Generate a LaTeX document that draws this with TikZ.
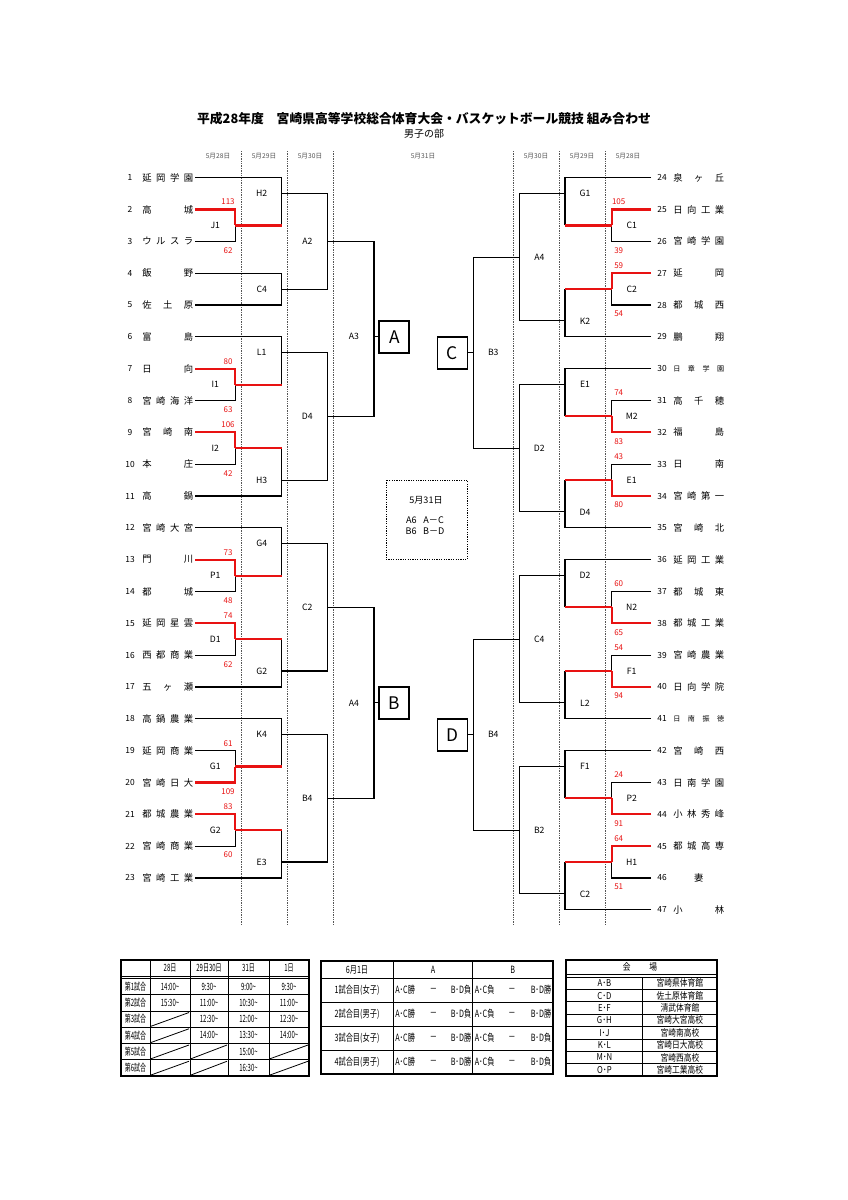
\documentclass[tikz,border=0pt]{standalone}
\usepackage{fontspec}
\setmainfont{Noto Sans CJK JP}
\newfontfamily\condA[FakeStretch=0.6]{Noto Sans CJK JP}
\newfontfamily\cond[FakeStretch=0.72]{Noto Sans CJK JP}
\newfontfamily\condC[FakeStretch=0.82]{Noto Sans CJK JP}
\usetikzlibrary{calc}
\definecolor{wred}{RGB}{232,18,18}
\definecolor{dgray}{RGB}{85,85,85}
\def\spreadA#1{\ifx\relax#1\else#1\expandafter\spreadB\fi}
\def\spreadB#1{\ifx\relax#1\else\hfill#1\expandafter\spreadB\fi}
\newcommand\spr[1]{\spreadA#1\relax}
\newcommand\ry[1]{(177.7+(#1-1)*31.83)}
\newcommand\hy[1]{(193.6+(#1-1)*31.83)}
\newcommand\lteam[3][]{%
 \node[num] (ln#2) at (130,{\ry{#2}}) {#2};
 \node[tname] (lt#2) at (142,{\ry{#2}}) {#1\hbox to 38.25pt{#3}};
 \coordinate (le#2) at (195,{\ry{#2}});}
\newcommand\rteam[4][]{%
 \node[num] (rn#2) at (662,{\ry{#3}}) {#2};
 \node[tname] (rt#2) at (673,{\ry{#3}}) {#1\hbox to 38.25pt{#4}};
 \coordinate (re#2) at (651,{\ry{#3}});}
\newcommand\rone[4]{%
 \draw[ln] (#2) -| (#3);
 \draw[ln] (#3 -| #4) -- (#4);
 \draw[win] (#1) -| (#3);
 \draw[win] (#3) -- (#3 -| #4);}
\newcommand\sctop[4]{\node[score] (#1) at (#2,{\ry{#3}-7.5}) {#4};}
\newcommand\scbot[4]{\node[score] (#1) at (#2,{\ry{#3}+9}) {#4};}
\newcommand\llab[2]{\node[mlab] (lab#1) at ($(#1)+(-20,0)$) {#2};}
\newcommand\rlab[2]{\node[mlab] (lab#1) at ($(#1)+(20,0)$) {#2};}
\tikzset{
 ln/.style={line width=0.85pt, black},
 win/.style={line width=1.6pt, wred},
 num/.style={font=\fontsize{6.3}{7}\selectfont, inner sep=0pt},
 tname/.style={font=\fontsize{7}{7}\selectfont, inner sep=0pt, anchor=west},
 mlab/.style={font=\fontsize{6.5}{7}\selectfont, inner sep=0pt},
 score/.style={font=\fontsize{6}{6}\selectfont, text=wred, inner sep=0pt},
 dateh/.style={font=\fontsize{5}{5}\selectfont, text=dgray, inner sep=0pt},
 daylines/.style={dgray, line width=0.6pt, dash pattern=on 1pt off 0.8pt},
 bigbox/.style={draw, line width=1.4pt, minimum width=22.5pt, minimum height=24pt, inner sep=0pt, font=\fontsize{13}{13}\selectfont},
 tbo/.style={line width=0.9pt},
 tbi/.style={line width=0.5pt},
 tfa/.style={font=\condA\fontsize{7.5}{8}\selectfont, inner sep=0pt},
 tfb/.style={font=\cond\fontsize{7.5}{8}\selectfont, inner sep=0pt},
 tfc/.style={font=\condC\fontsize{7.1}{8}\selectfont, inner sep=0pt},
}
\begin{document}
\begin{tikzpicture}[x=0.75pt,y=-0.75pt]
\fill[white] (0,0) rectangle (848,1200);
\useasboundingbox (0,0) rectangle (848,1200);
% titles
\node[font=\bfseries\fontsize{9.6}{10}\selectfont, inner sep=0pt] (title) at (424,119) {平成28年度　宮崎県高等学校総合体育大会・バスケットボール競技 組み合わせ};
\node[font=\fontsize{7.5}{8}\selectfont, inner sep=0pt] (sub) at (424,134) {男子の部};
% date headers
\node[dateh] (d1) at (218,156) {5月28日};
\node[dateh] (d2) at (264,156) {5月29日};
\node[dateh] (d3) at (310,156) {5月30日};
\node[dateh] (d4) at (423,156) {5月31日};
\node[dateh] (d5) at (536,156) {5月30日};
\node[dateh] (d6) at (582,156) {5月29日};
\node[dateh] (d7) at (628,156) {5月28日};
\foreach \x [count=\i] in {241,287.3,333.3,513.3,559.3,605.7}
  \draw[daylines] (\x,151) coordinate (dl\i) -- (\x,925);
% left teams
\lteam{1}{\spr{延岡学園}}
\lteam{2}{\spr{高城}}
\lteam{3}{\spr{ウルスラ}}
\lteam{4}{\spr{飯野}}
\lteam{5}{\spr{佐土原}}
\lteam{6}{\spr{富島}}
\lteam{7}{\spr{日向}}
\lteam{8}{\spr{宮崎海洋}}
\lteam{9}{\spr{宮崎南}}
\lteam{10}{\spr{本庄}}
\lteam{11}{\spr{高鍋}}
\lteam{12}{\spr{宮崎大宮}}
\lteam{13}{\spr{門川}}
\lteam{14}{\spr{都城}}
\lteam{15}{\spr{延岡星雲}}
\lteam{16}{\spr{西都商業}}
\lteam{17}{\spr{五ヶ瀬}}
\lteam{18}{\spr{高鍋農業}}
\lteam{19}{\spr{延岡商業}}
\lteam{20}{\spr{宮崎日大}}
\lteam{21}{\spr{都城農業}}
\lteam{22}{\spr{宮崎商業}}
\lteam{23}{\spr{宮崎工業}}
% right teams
\rteam{24}{1}{\spr{泉ヶ丘}}
\rteam{25}{2}{\spr{日向工業}}
\rteam{26}{3}{\spr{宮崎学園}}
\rteam{27}{4}{\spr{延岡}}
\rteam{28}{5}{\spr{都城西}}
\rteam{29}{6}{\spr{鵬翔}}
\rteam[\fontsize{5.3}{5}\selectfont]{30}{7}{\spr{日章学園}}
\rteam{31}{8}{\spr{高千穂}}
\rteam{32}{9}{\spr{福島}}
\rteam{33}{10}{\spr{日南}}
\rteam{34}{11}{\spr{宮崎第一}}
\rteam{35}{12}{\spr{宮崎北}}
\rteam{36}{13}{\spr{延岡工業}}
\rteam{37}{14}{\spr{都城東}}
\rteam{38}{15}{\spr{都城工業}}
\rteam{39}{16}{\spr{宮崎農業}}
\rteam{40}{17}{\spr{日向学院}}
\rteam[\fontsize{5.3}{5}\selectfont]{41}{18}{\spr{日南振徳}}
\rteam{42}{19}{\spr{宮崎西}}
\rteam{43}{20}{\spr{日南学園}}
\rteam{44}{21}{\spr{小林秀峰}}
\rteam{45}{22}{\spr{都城高専}}
\rteam{46}{23}{\hfil 妻\hfil}
\rteam{47}{24}{\spr{小林}}
% left match points
\coordinate (LJ1) at (235.3,{\hy{2}});
\coordinate (LI1) at (235.3,{\hy{7}});
\coordinate (LI2) at (235.3,{\hy{9}});
\coordinate (LP1) at (235.3,{\hy{13}});
\coordinate (LD1) at (235.3,{\hy{15}});
\coordinate (LG1) at (235.3,{\hy{19}});
\coordinate (LG2a) at (235.3,{\hy{21}});
\coordinate (LH2) at (281.7,{\hy{1}});
\coordinate (LC4) at (281.7,{\hy{4}});
\coordinate (LL1) at (281.7,{\hy{6}});
\coordinate (LH3) at (281.7,{\hy{10}});
\coordinate (LG4) at (281.7,{\hy{12}});
\coordinate (LG2) at (281.7,{\hy{16}});
\coordinate (LK4) at (281.7,{\hy{18}});
\coordinate (LE3) at (281.7,{\hy{22}});
\coordinate (LA2) at (327.3,{\ry{3}});
\coordinate (LD4) at (327.3,{\hy{8}});
\coordinate (LC2) at (327.3,{\hy{14}});
\coordinate (LB4) at (327.3,{\hy{20}});
\coordinate (LA3) at (374,{\ry{6}});
\coordinate (LA4) at (374,{\hy{17}});
% right match points
\coordinate (RC1) at (611.7,{\hy{2}});
\coordinate (RC2) at (611.7,{\hy{4}});
\coordinate (RM2) at (611.7,{\hy{8}});
\coordinate (RE1b) at (611.7,{\hy{10}});
\coordinate (RN2) at (611.7,{\hy{14}});
\coordinate (RF1) at (611.7,{\hy{16}});
\coordinate (RP2) at (611.7,{\hy{20}});
\coordinate (RH1) at (611.7,{\hy{22}});
\coordinate (RG1) at (565,{\hy{1}});
\coordinate (RK2) at (565,{\hy{5}});
\coordinate (RE1) at (565,{\hy{7}});
\coordinate (RD4) at (565,{\hy{11}});
\coordinate (RD2) at (565,{\hy{13}});
\coordinate (RL2) at (565,{\hy{17}});
\coordinate (RF1b) at (565,{\hy{19}});
\coordinate (RC2b) at (565,{\hy{23}});
\coordinate (RA4) at (519.3,{\hy{3}});
\coordinate (RD2a) at (519.3,{\hy{9}});
\coordinate (RC4) at (519.3,{\hy{15}});
\coordinate (RB2) at (519.3,{\hy{21}});
\coordinate (RB3) at (473.3,{\hy{6}});
\coordinate (RB4) at (473.3,{\hy{18}});
% boxes
\node[bigbox] (boxA) at (394.3,{\ry{6}}) {A};
\node[bigbox] (boxB) at (394.3,{\hy{17}}) {B};
\node[bigbox] (boxC) at (452.5,{\hy{6}}) {C};
\node[bigbox] (boxD) at (452.5,{\hy{18}}) {D};
% left bracket
\draw[ln] (le1) -| (LH2);
\draw[ln] (le4) -| (LC4); \draw[ln] (le5) -| (LC4);
\draw[ln] (le6) -| (LL1);
\draw[ln] (le11) -| (LH3);
\draw[ln] (le12) -| (LG4);
\draw[ln] (le17) -| (LG2);
\draw[ln] (le18) -| (LK4);
\draw[ln] (le23) -| (LE3);
\draw[ln] (LH2) -| (LA2); \draw[ln] (LC4) -| (LA2);
\draw[ln] (LL1) -| (LD4); \draw[ln] (LH3) -| (LD4);
\draw[ln] (LG4) -| (LC2); \draw[ln] (LG2) -| (LC2);
\draw[ln] (LK4) -| (LB4); \draw[ln] (LE3) -| (LB4);
\draw[ln] (LA2) -| (LA3); \draw[ln] (LD4) -| (LA3);
\draw[ln] (LC2) -| (LA4); \draw[ln] (LB4) -| (LA4);
\draw[ln] (LA3) -- (boxA); \draw[ln] (LA4) -- (boxB);
\rone{le2}{le3}{LJ1}{LH2}
\rone{le7}{le8}{LI1}{LL1}
\rone{le9}{le10}{LI2}{LH3}
\rone{le13}{le14}{LP1}{LG4}
\rone{le15}{le16}{LD1}{LG2}
\rone{le20}{le19}{LG1}{LK4}
\rone{le21}{le22}{LG2a}{LE3}
% right bracket
\draw[ln] (re24) -| (RG1);
\draw[ln] (re29) -| (RK2);
\draw[ln] (re30) -| (RE1);
\draw[ln] (re35) -| (RD4);
\draw[ln] (re36) -| (RD2);
\draw[ln] (re41) -| (RL2);
\draw[ln] (re42) -| (RF1b);
\draw[ln] (re47) -| (RC2b);
\draw[ln] (RG1) -| (RA4); \draw[ln] (RK2) -| (RA4);
\draw[ln] (RE1) -| (RD2a); \draw[ln] (RD4) -| (RD2a);
\draw[ln] (RD2) -| (RC4); \draw[ln] (RL2) -| (RC4);
\draw[ln] (RF1b) -| (RB2); \draw[ln] (RC2b) -| (RB2);
\draw[ln] (RA4) -| (RB3); \draw[ln] (RD2a) -| (RB3);
\draw[ln] (RC4) -| (RB4); \draw[ln] (RB2) -| (RB4);
\draw[ln] (RB3) -- (boxC); \draw[ln] (RB4) -- (boxD);
\rone{re25}{re26}{RC1}{RG1}
\rone{re27}{re28}{RC2}{RK2}
\rone{re32}{re31}{RM2}{RE1}
\rone{re34}{re33}{RE1b}{RD4}
\rone{re38}{re37}{RN2}{RD2}
\rone{re40}{re39}{RF1}{RL2}
\rone{re44}{re43}{RP2}{RF1b}
\rone{re45}{re46}{RH1}{RC2b}
% match labels
\llab{LJ1}{J1} \llab{LI1}{I1} \llab{LI2}{I2} \llab{LP1}{P1} \llab{LD1}{D1} \llab{LG1}{G1} \llab{LG2a}{G2}
\llab{LH2}{H2} \llab{LC4}{C4} \llab{LL1}{L1} \llab{LH3}{H3} \llab{LG4}{G4} \llab{LG2}{G2} \llab{LK4}{K4} \llab{LE3}{E3}
\llab{LA2}{A2} \llab{LD4}{D4} \llab{LC2}{C2} \llab{LB4}{B4} \llab{LA3}{A3} \llab{LA4}{A4}
\rlab{RC1}{C1} \rlab{RC2}{C2} \rlab{RM2}{M2} \rlab{RE1b}{E1} \rlab{RN2}{N2} \rlab{RF1}{F1} \rlab{RP2}{P2} \rlab{RH1}{H1}
\rlab{RG1}{G1} \rlab{RK2}{K2} \rlab{RE1}{E1} \rlab{RD4}{D4} \rlab{RD2}{D2} \rlab{RL2}{L2} \rlab{RF1b}{F1} \rlab{RC2b}{C2}
\rlab{RA4}{A4} \rlab{RD2a}{D2} \rlab{RC4}{C4} \rlab{RB2}{B2} \rlab{RB3}{B3} \rlab{RB4}{B4}
% scores left
\sctop{s2}{228}{2}{113} \scbot{s3}{228}{3}{62}
\sctop{s7}{228}{7}{80} \scbot{s8}{228}{8}{63}
\sctop{s9}{228}{9}{106} \scbot{s10}{228}{10}{42}
\sctop{s13}{228}{13}{73} \scbot{s14}{228}{14}{48}
\sctop{s15}{228}{15}{74} \scbot{s16}{228}{16}{62}
\sctop{s19}{228}{19}{61} \scbot{s20}{228}{20}{109}
\sctop{s21}{228}{21}{83} \scbot{s22}{228}{22}{60}
% scores right
\sctop{s25}{618.7}{2}{105} \scbot{s26}{618.7}{3}{39}
\sctop{s27}{618.7}{4}{59} \scbot{s28}{618.7}{5}{54}
\sctop{s31}{618.7}{8}{74} \scbot{s32}{618.7}{9}{83}
\sctop{s33}{618.7}{10}{43} \scbot{s34}{618.7}{11}{80}
\sctop{s37}{618.7}{14}{60} \scbot{s38}{618.7}{15}{65}
\sctop{s39}{618.7}{16}{54} \scbot{s40}{618.7}{17}{94}
\sctop{s43}{618.7}{20}{24} \scbot{s44}{618.7}{21}{91}
\sctop{s45}{618.7}{22}{64} \scbot{s46}{618.7}{23}{51}
% center info box
\draw[line width=0.6pt, dash pattern=on 0.9pt off 0.9pt] (386,480) coordinate (ib1) rectangle (467.3,559.3) coordinate (ib2);
\node[font=\fontsize{6.8}{7}\selectfont, inner sep=0pt] (ibt) at (426,500) {5月31日};
\node[font=\fontsize{6.8}{7}\selectfont, inner sep=0pt] (iba) at (425,520) {A6\hspace{5pt}A－C};
\node[font=\fontsize{6.8}{7}\selectfont, inner sep=0pt] (ibb) at (425,531.5) {B6\hspace{5pt}B－D};
% ---------- table 1
\draw[tbo] (121,960) coordinate (ta0) rectangle (309,1076);
\foreach \x in {150,190,228,269} \draw[tbi] (\x,960) -- (\x,1076);
\draw[tbi] (121,976) -- (309,976);
\draw[tbi] (121,978.5) -- (309,978.5);
\foreach \k in {1,...,5} \draw[tbi] (121,{978.5+16.25*\k}) -- (309,{978.5+16.25*\k});
\node[tfa] (tah2) at (170,968) {28日};
\node[tfa] (tah3) at (209,968) {29日30日};
\node[tfa] (tah4) at (248.5,968) {31日};
\node[tfa] (tah5) at (289,968) {1日};
\foreach \t [count=\k] in {第1試合,第2試合,第3試合,第4試合,第5試合,第6試合}
  \node[tfa] (tar\k) at (135.5,{978.5+16.25*(\k-0.5)}) {\t};
\foreach \t [count=\k] in {14:00,15:30}
  \node[tfa] (tab\k) at (170,{978.5+16.25*(\k-0.5)}) {\t\textasciitilde};
\foreach \t [count=\k] in {9:30,11:00,12:30,14:00}
  \node[tfa] (tac\k) at (209,{978.5+16.25*(\k-0.5)}) {\t\textasciitilde};
\foreach \t [count=\k] in {9:00,10:30,12:00,13:30,15:00,16:30}
  \node[tfa] (tad\k) at (248.5,{978.5+16.25*(\k-0.5)}) {\t\textasciitilde};
\foreach \t [count=\k] in {9:30,11:00,12:30,14:00}
  \node[tfa] (tae\k) at (289,{978.5+16.25*(\k-0.5)}) {\t\textasciitilde};
\foreach \xa/\xb/\k in {150/190/3,150/190/4,150/190/5,150/190/6,190/228/5,190/228/6,269/309/5,269/309/6}
  \draw[line width=0.6pt] ({\xa+1},{978.5+16.25*\k-1}) -- ({\xb-1},{978.5+16.25*(\k-1)+1.5});
% ---------- table 2
\draw[tbo] (321,961) coordinate (tb0) rectangle (553,1074);
\foreach \x in {393.3,472.7} \draw[tbi] (\x,961) -- (\x,1074);
\foreach \y in {978,1002,1026,1050} \draw[tbi] (321,\y) -- (553,\y);
\node[tfb] (tbh1) at (357,969.5) {6月1日};
\node[tfb] (tbh2) at (433,969.5) {A};
\node[tfb] (tbh3) at (512.7,969.5) {B};
\foreach \t/\ra/\rb [count=\k] in {1試合目(女子)/負/勝,2試合目(男子)/負/勝,3試合目(女子)/勝/負,4試合目(男子)/勝/負}{
  \node[tfb] (tbl\k) at (357,{966+24*\k}) {\t};
  \node[tfb, anchor=west] (tba\k) at (395,{966+24*\k}) {A･C勝};
  \node[tfb] (tbm\k) at (433.5,{966+24*\k}) {－};
  \node[tfb, anchor=east] (tbc\k) at (471.5,{966+24*\k}) {B･D\ra};
  \node[tfb, anchor=west] (tbd\k) at (474.5,{966+24*\k}) {A･C負};
  \node[tfb] (tbn\k) at (512,{966+24*\k}) {－};
  \node[tfb, anchor=east] (tbe\k) at (551.5,{966+24*\k}) {B･D\rb};
}
% ---------- table 3
\draw[tbo] (566,960) coordinate (tc0) rectangle (717,1076);
\draw[tbi] (566,974.5) -- (717,974.5);
\draw[tbi] (566,977) -- (717,977);
\draw[tbi] (642.7,977) -- (642.7,1076);
\foreach \k in {1,...,7} \draw[tbi] (566,{977+12.375*\k}) -- (717,{977+12.375*\k});
\node[tfc] (tch) at (640,967) {会\hspace{14pt}場};
\foreach \a/\b [count=\k] in {A･B/宮崎県体育館,C･D/佐土原体育館,E･F/清武体育館,G･H/宮崎大宮高校,I･J/宮崎南高校,K･L/宮崎日大高校,M･N/宮崎西高校,O･P/宮崎工業高校}{
  \node[tfc] (tcl\k) at (604.4,{977+12.375*(\k-0.5)}) {\a};
  \node[tfc] (tcr\k) at (679.9,{977+12.375*(\k-0.5)}) {\b};
}
\end{tikzpicture}
\end{document}
